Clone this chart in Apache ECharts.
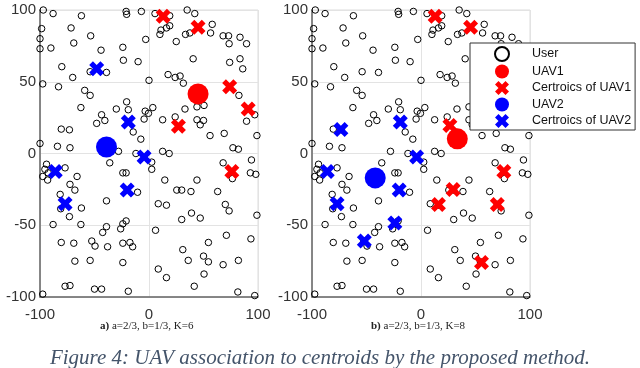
<!DOCTYPE html>
<html>
<head>
<meta charset="utf-8">
<script src="https://cdn.jsdelivr.net/npm/echarts@6/dist/echarts.min.js"></script>
<style>
  html, body { margin: 0; padding: 0; background: #fff; }
  #chart { width: 640px; height: 368px; }
</style>
</head>
<body>
<div id="chart"></div>
<script>
// user positions (same in both panels)
const users = [
  [-97,100],[-88,97.5],[-62,96],[-21,99],[-20.5,97],[-7,99],[5.5,97.5],[19,96],[35,100],[42,97.5],
  [-98.5,87],[-71.5,87.5],[-100,80],[-100,73],[-90,73.5],[-69,77],[-53.5,82],[-44,72],[-24,74],[-23.5,65],
  [-10,64],[-3,79.5],[10,83],[16,87.5],[19,89],[11,86],[25,78],[33.5,83],[37.5,84],[56.5,84],
  [58,90],[68,82],[73,82],[73.5,76.5],[83.5,81],[89.5,76.5],[40.5,66],[74,63.5],[83.5,66],[86,59],
  [-80,60.5],[-70,53],[-54,57],[-39,56.5],[-97.5,48.5],[-83,46.5],[-59,44],[-54,40.5],[-62.5,32],[-30,31],
  [-20.5,36],[-19,30.5],[-43.5,27],[-48,21],[-40.5,23],[-3.5,29.5],[-4.5,24],[-0.5,28],[3.5,32],[-14.5,15],
  [-7.5,10],[0,51],[17.5,55],[24,53],[28.5,54],[31.5,49],[33,31],[24,25.5],[12.5,23.5],[44,32.5],
  [50.5,33.5],[44,23.5],[50,23],[47,20],[56,12.5],[69,14],[89.5,22.5],[97,27],[99,12.5],[77,4],
  [82,3],[82.5,40.5],[-80.5,17],[-73,16.5],[-100,7],[-84,5],[-72.5,4],[-28,1.5],[12.5,1.5],[18.5,0],
  [-36,-6.5],[-12,0],[2.5,-6],[94,-4.5],[68,-6.5],[-24,-13.5],[-21,-13.5],[2.5,-11],[-94,-7.5],[-95.5,-11],
  [-92.5,-13.5],[-77,-10],[-66,-16],[93,-13.5],[98,-14.5],[76.5,-17.5],[-97.5,-16],[-93,-18.5],[-72.5,-21.5],[-68,-25.5],
  [-81.5,-28.5],[-81,-38.5],[-73,-44],[-62,-38],[-62.5,-49.5],[-88,-49.5],[-39,-33],[-10.5,-27],[-39,-51],[-42.5,-55],
  [-26,-52.5],[-24,-49],[-21,-47],[-80.5,-62],[-69,-62.5],[-52.5,-61],[-49.5,-64.5],[-38,-65],[-24,-62.5],[-17.5,-62],
  [-15,-65],[-68,-75],[-54,-74.5],[-24,-76],[-77,-92.5],[-72.5,-92],[-50,-94.5],[-43.5,-94.5],[-19,-96],[-97.5,-98],
  [14.5,-18.5],[44,-18.5],[25.5,-25.5],[30,-25.5],[38.5,-26.5],[63,-26.5],[8.5,-35],[16,-36],[39,-41.5],[47,-45],
  [30,-46],[70,-35.5],[73.5,-40],[99,-43],[6,-53.5],[71,-57],[93.5,-59.5],[31,-67],[54.5,-62],[36,-74.5],
  [50,-71.5],[54.5,-75.5],[68,-77.5],[82,-74.5],[8.5,-80.5],[16,-86.5],[50.5,-84],[41.5,-92.5],[81.5,-96.5],[97,-99]
];

// panel a) K=6
const uav1A = [[45, 41.5]];
const cent1A = [[13, 95.7], [45, 88], [74, 46.5], [91, 31], [27, 19], [76, -12.5]];
const uav2A = [[-39, 4.5]];
const cent2A = [[-48, 59], [-19, 22], [-4.5, -2.5], [-86, -12.5], [-77, -35], [-20, -25.5]];

// panel b) K=8
const uav1B = [[33.3, 10.2]];
const cent1B = [[13, 95.7], [45.5, 88], [26.5, 19.5], [76, -12.5], [29.5, -25], [16, -35.5], [70, -35.5], [55.5, -76]];
const uav2B = [[-42, -17]];
const cent2B = [[-73.5, 16.7], [-19, 22], [-4, -2.5], [-86, -12.5], [-20, -25.5], [-77, -35], [-24, -48.5], [-52, -61]];

const xTicks = [-100, 0, 100];
const yTicks = [-100, -50, 0, 50, 100];

const RED = '#ff0000';
const BLUE = '#0000ff';
const CROSS = 'path://M0,2.5L2.5,0L5,2.5L7.5,0L10,2.5L7.5,5L10,7.5L7.5,10L5,7.5L2.5,10L0,7.5L2.5,5Z';

function axisX(i) {
  return {
    type: 'value', gridIndex: i, min: xTicks[0], max: xTicks[xTicks.length - 1],
    interval: xTicks[1] - xTicks[0],
    axisLine: { onZero: false, lineStyle: { color: '#666', width: 1.5 } },
    axisTick: { show: false },
    splitLine: { lineStyle: { color: '#e3e3e3' } },
    axisLabel: { color: '#333', fontSize: 15, fontFamily: 'Liberation Sans', margin: 10 }
  };
}
function axisY(i) {
  return {
    type: 'value', gridIndex: i, min: yTicks[0], max: yTicks[yTicks.length - 1],
    interval: yTicks[1] - yTicks[0],
    axisLine: { show: true, onZero: false, lineStyle: { color: '#666', width: 1.5 } },
    axisTick: { show: false },
    splitLine: { lineStyle: { color: '#e3e3e3' } },
    axisLabel: { color: '#333', fontSize: 15, fontFamily: 'Liberation Sans', margin: 4 }
  };
}

function panel(i, uav1, cent1, uav2, cent2) {
  const base = { type: 'scatter', xAxisIndex: i, yAxisIndex: i, clip: false };
  return [
    Object.assign({}, base, { name: 'User', data: users, symbol: 'circle', symbolSize: 6.5,
      itemStyle: { color: 'rgba(255,255,255,0)', borderColor: '#000', borderWidth: 1, opacity: 1 } }),
    Object.assign({}, base, { name: 'UAV1', data: uav1, symbol: 'circle', symbolSize: 21,
      itemStyle: { color: RED, opacity: 1 } }),
    Object.assign({}, base, { name: 'Certroics of UAV1', data: cent1, symbol: CROSS, symbolSize: 15,
      itemStyle: { color: RED, opacity: 1 } }),
    Object.assign({}, base, { name: 'UAV2', data: uav2, symbol: 'circle', symbolSize: 21,
      itemStyle: { color: BLUE, opacity: 1 } }),
    Object.assign({}, base, { name: 'Certroics of UAV2', data: cent2, symbol: CROSS, symbolSize: 15,
      itemStyle: { color: BLUE, opacity: 1 } })
  ];
}

const chart = echarts.init(document.getElementById('chart'), null, { renderer: 'canvas' });

chart.setOption({
  animation: false,
  grid: [
    { left: 40, top: 10, width: 218, height: 287, show: true, borderColor: '#dcdcdc', borderWidth: 1 },
    { left: 312, top: 10, width: 218, height: 287, show: true, borderColor: '#dcdcdc', borderWidth: 1 }
  ],
  xAxis: [axisX(0), axisX(1)],
  yAxis: [axisY(0), axisY(1)],
  legend: {
    data: ['User', 'UAV1', 'Certroics of UAV1', 'UAV2', 'Certroics of UAV2'],
    orient: 'vertical', left: 470, top: 43,
    itemWidth: 50, itemHeight: 14, itemGap: 2.5,
    padding: [3, 4, 2, 24],
    backgroundColor: '#fff', borderColor: '#333', borderWidth: 1, borderRadius: 0,
    selectedMode: false, z: 10,
    textStyle: { color: '#111', fontSize: 12.5, fontFamily: 'Liberation Sans' }
  },
  graphic: [
    { type: 'text', left: 100, top: 321, style: {
        text: '{b|a)} a=2/3, b=1/3, K=6', fill: '#222',
        font: '11px "Liberation Serif"',
        rich: { b: { fontWeight: 'bold', fontSize: 11, fontFamily: 'Liberation Serif' } } } },
    { type: 'text', left: 371, top: 321, style: {
        text: '{b|b)} a=2/3, b=1/3, K=8', fill: '#222',
        font: '11px "Liberation Serif"',
        rich: { b: { fontWeight: 'bold', fontSize: 11, fontFamily: 'Liberation Serif' } } } },
    { type: 'text', left: 'center', top: 348, style: {
        text: 'Figure 4: UAV association to centroids by the proposed method.',
        fill: '#44546a', font: 'italic 21px "Liberation Serif"' } }
  ],
  series: [].concat(
    panel(0, uav1A, cent1A, uav2A, cent2A),
    panel(1, uav1B, cent1B, uav2B, cent2B)
  )
});
</script>
</body>
</html>
